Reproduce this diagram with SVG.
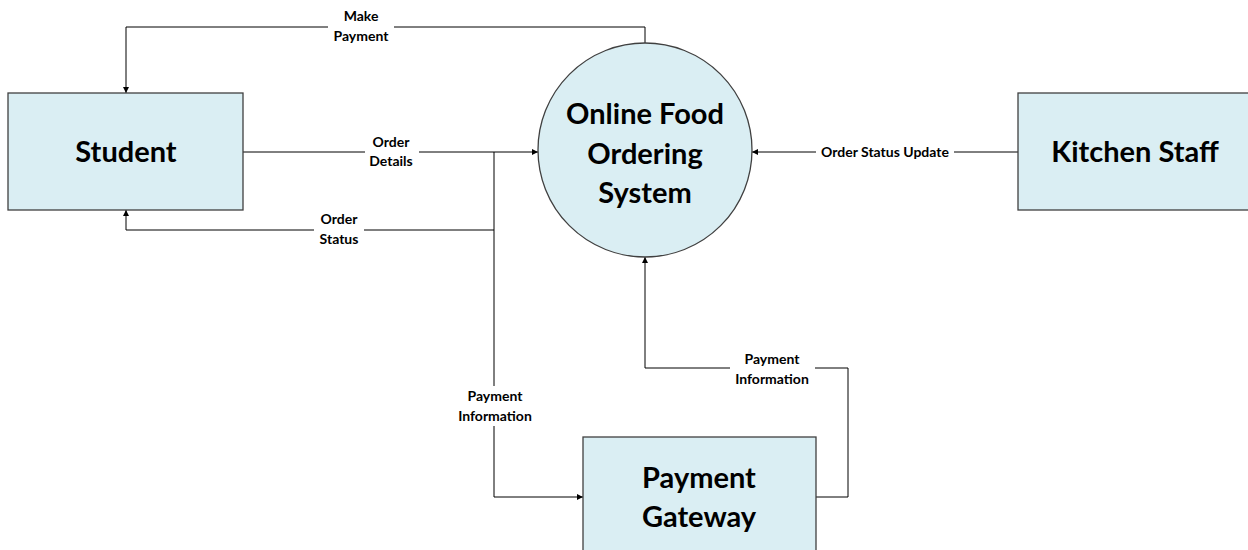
<svg xmlns="http://www.w3.org/2000/svg" width="1248" height="550" viewBox="0 0 1248 550">
<defs>
<style>
.box{fill:#daeef3;stroke:#404040;stroke-width:1.3}
.big{font-family:Lato,"Open Sans","Liberation Sans",sans-serif;font-weight:bold;font-size:29px;fill:#000;text-anchor:middle}
.lbl{font-family:Lato,"Open Sans","Liberation Sans",sans-serif;font-weight:bold;font-size:14px;fill:#000;text-anchor:middle}
.ln{fill:none;stroke:#000;stroke-width:1}
.bg{fill:#fff}
</style>
<marker id="ah" viewBox="0 0 10 10" refX="10" refY="5" markerWidth="6" markerHeight="6" orient="auto" markerUnits="userSpaceOnUse">
<path d="M0,0 L10,5 L0,10 z" fill="#000"/>
</marker>
</defs>
<rect width="1248" height="550" fill="#fff"/>
<g id="connectors">
<path class="ln" d="M645,43 V27 H126 V93" marker-end="url(#ah)"/>
<path class="ln" d="M243,152 H538" marker-end="url(#ah)"/>
<path class="ln" d="M494,230 H126 V210" marker-end="url(#ah)"/>
<path class="ln" d="M494,152 V497 H583" marker-end="url(#ah)"/>
<path class="ln" d="M1018,152 H752" marker-end="url(#ah)"/>
<path class="ln" d="M816,497 H848 V368 H645 V257" marker-end="url(#ah)"/>
<rect class="bg" x="328" y="6" width="66" height="40"/>
<text class="lbl" x="361" y="21">Make</text>
<text class="lbl" x="361" y="41">Payment</text>
<rect class="bg" x="365" y="132" width="54" height="38"/>
<text class="lbl" x="391" y="147">Order</text>
<text class="lbl" x="391" y="166">Details</text>
<rect class="bg" x="314" y="210" width="50" height="38"/>
<text class="lbl" x="339" y="224">Order</text>
<text class="lbl" x="339" y="244">Status</text>
<rect class="bg" x="452" y="386" width="86" height="40"/>
<text class="lbl" x="495" y="401">Payment</text>
<text class="lbl" x="495" y="421">Information</text>
<rect class="bg" x="730" y="349" width="85" height="40"/>
<text class="lbl" x="772" y="364">Payment</text>
<text class="lbl" x="772" y="384">Information</text>
<rect class="bg" x="816" y="144" width="138" height="16"/>
<text class="lbl" x="885" y="157">Order Status Update</text>
</g>
<g id="student">
<rect class="box" x="8" y="93" width="235" height="117"/>
<text class="big" x="126" y="162">Student</text>
</g>
<g id="system">
<circle class="box" cx="645" cy="150" r="107"/>
<text class="big" x="645" y="124">Online Food</text>
<text class="big" x="645" y="164">Ordering</text>
<text class="big" x="645" y="203">System</text>
</g>
<g id="kitchen">
<rect class="box" x="1018" y="93" width="236" height="117"/>
<text class="big" x="1135" y="162">Kitchen Staff</text>
</g>
<g id="gateway">
<rect class="box" x="583" y="437" width="233" height="120"/>
<text class="big" x="699" y="488">Payment</text>
<text class="big" x="699" y="527">Gateway</text>
</g>
</svg>
